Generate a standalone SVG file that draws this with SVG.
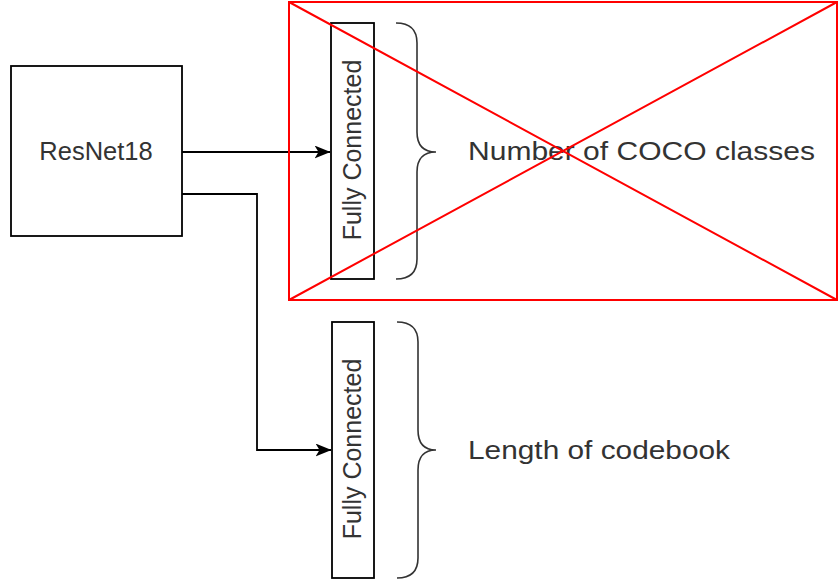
<svg xmlns="http://www.w3.org/2000/svg" width="838" height="581" viewBox="0 0 838 581">
  <style>
    .box { fill: #ffffff; stroke: #000000; stroke-width: 1.8; }
    .edge { fill: none; stroke: #000000; stroke-width: 1.8; }
    .brace { fill: none; stroke: #333333; stroke-width: 1.6; }
    .cross { fill: none; stroke: #ff0000; stroke-width: 2; }
    .lbl { font-family: "Liberation Sans", Arial, sans-serif; fill: #333333; }
  </style>
  <defs>
    <marker id="arrow" viewBox="0 0 16 13" refX="15.5" refY="6.5" markerWidth="16" markerHeight="13" markerUnits="userSpaceOnUse" orient="auto">
      <path d="M0,0 L16,6.5 L0,13 L4,6.5 Z" fill="#000000"/>
    </marker>
  </defs>

  <rect width="838" height="581" fill="#ffffff"/>

  <g id="resnet18">
    <rect class="box" x="11" y="66" width="171" height="170"/>
    <text class="lbl" x="96" y="159.5" font-size="25.5" text-anchor="middle">ResNet18</text>
  </g>

  <g id="fc-classes">
    <rect class="box" x="331" y="23" width="43" height="256"/>
    <text class="lbl" font-size="25" text-anchor="middle" transform="translate(361,150) rotate(-90)">Fully Connected</text>
  </g>

  <g id="fc-codebook">
    <rect class="box" x="332" y="322" width="42" height="256"/>
    <text class="lbl" font-size="25" text-anchor="middle" transform="translate(361,449) rotate(-90)">Fully Connected</text>
  </g>

  <g id="brace-classes">
    <path class="brace" d="M396,23 Q417,23 417,43 L417,132 Q417,152 436,152 Q417,152 417,172 L417,259 Q417,279 396,279"/>
    <text class="lbl" x="468" y="159.5" font-size="26.5" textLength="347" lengthAdjust="spacingAndGlyphs">Number of COCO classes</text>
  </g>

  <g id="brace-codebook">
    <path class="brace" d="M397,322 Q418,322 418,342 L418,430 Q418,450 436,450 Q418,450 418,470 L418,558 Q418,578 397,578"/>
    <text class="lbl" x="468" y="459" font-size="26.5" textLength="262" lengthAdjust="spacingAndGlyphs">Length of codebook</text>
  </g>

  <g id="connectors">
    <path class="edge" d="M182,152 L330,152" marker-end="url(#arrow)"/>
    <path class="edge" d="M182,194 L257,194 L257,450 L331,450" marker-end="url(#arrow)"/>
  </g>

  <g id="crossed-out">
    <rect class="cross" x="289" y="2" width="548" height="298"/>
    <path class="cross" d="M289,2 L837,300 M289,300 L837,2"/>
  </g>
</svg>
